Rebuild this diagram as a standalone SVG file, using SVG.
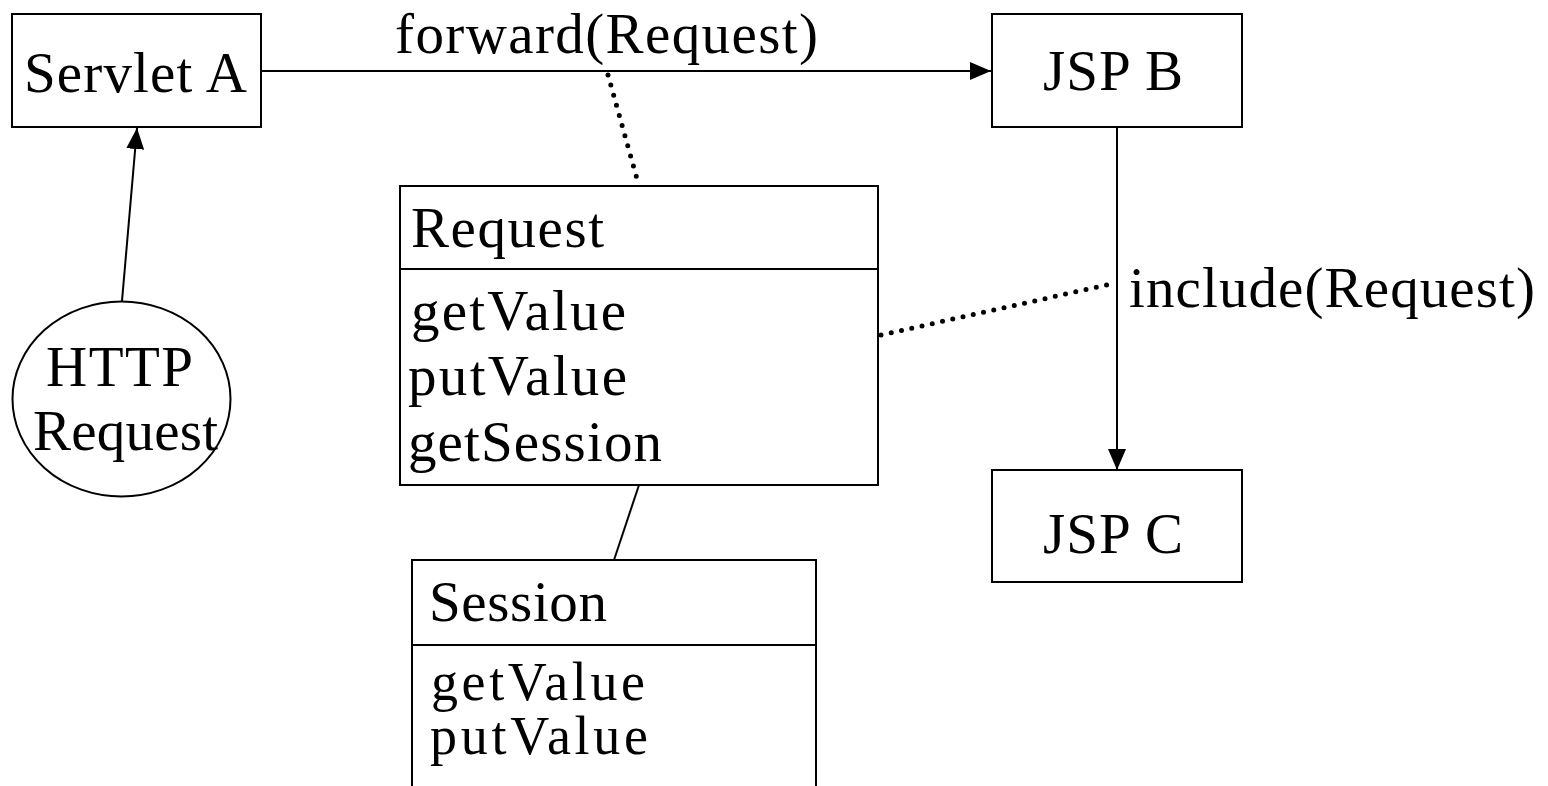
<svg xmlns="http://www.w3.org/2000/svg" width="1548" height="786" viewBox="0 0 1548 786">
  <style>
    .box { fill: #fff; stroke: #000; stroke-width: 2; }
    .edge { fill: none; stroke: #000; stroke-width: 2; }
    .dots { fill: none; stroke: #000; stroke-width: 5; stroke-linecap: round; stroke-dasharray: 0 10.5; }
    text { font-family: "Liberation Serif", "Times New Roman", serif; font-size: 57px; fill: #000; }
    .small { font-size: 54px; }
  </style>
  <defs>
    <marker id="arrow" viewBox="0 0 21 18" refX="21" refY="9" markerWidth="21" markerHeight="18" markerUnits="userSpaceOnUse" orient="auto">
      <path d="M0,0 L21,9 L0,18 Z" fill="#000"/>
    </marker>
  </defs>

  <rect width="1548" height="786" fill="#fff"/>

  <g id="connectors">
    <!-- HTTP Request -> Servlet A -->
    <line class="edge" x1="122" y1="301" x2="137" y2="128" marker-end="url(#arrow)"/>
    <!-- Servlet A -> JSP B -->
    <line class="edge" x1="261" y1="71" x2="991" y2="71" marker-end="url(#arrow)"/>
    <!-- JSP B -> JSP C -->
    <line class="edge" x1="1117" y1="127" x2="1117" y2="470" marker-end="url(#arrow)"/>
    <!-- Request <-> Session association -->
    <line class="edge" x1="639" y1="485" x2="614" y2="560"/>
    <!-- dotted links to the Request object -->
    <line class="dots" x1="608" y1="75" x2="639" y2="186"/>
    <line class="dots" x1="881" y1="335" x2="1111" y2="284"/>
    <text x="395" y="53" textLength="423" lengthAdjust="spacing">forward(Request)</text>
    <text x="1129" y="307" textLength="406" lengthAdjust="spacing">include(Request)</text>
  </g>

  <g id="servlet-a">
    <rect class="box" x="12" y="14" width="249" height="113"/>
    <text x="24" y="92" textLength="223" lengthAdjust="spacing">Servlet A</text>
  </g>

  <g id="http-request">
    <ellipse class="box" cx="121.5" cy="399" rx="109" ry="97.5" stroke-width="1.6"/>
    <text x="46" y="386" textLength="147" lengthAdjust="spacing">HTTP</text>
    <text x="33" y="450" textLength="185" lengthAdjust="spacing">Request</text>
  </g>

  <g id="jsp-b">
    <rect class="box" x="992" y="14" width="250" height="113"/>
    <text x="1043" y="90" textLength="140" lengthAdjust="spacing">JSP B</text>
  </g>

  <g id="jsp-c">
    <rect class="box" x="992" y="470" width="250" height="112"/>
    <text x="1043" y="553" textLength="140" lengthAdjust="spacing">JSP C</text>
  </g>

  <g id="request">
    <rect class="box" x="400" y="186" width="478" height="299"/>
    <line class="edge" x1="400" y1="269" x2="878" y2="269"/>
    <text x="411" y="247" textLength="193" lengthAdjust="spacing">Request</text>
    <text x="411" y="330" textLength="215" lengthAdjust="spacing">getValue</text>
    <text x="408" y="395" textLength="219" lengthAdjust="spacing">putValue</text>
    <text x="408" y="461" textLength="254" lengthAdjust="spacing">getSession</text>
  </g>

  <g id="session">
    <path class="box" d="M412,790 L412,560 L816,560 L816,790"/>
    <line class="edge" x1="412" y1="645" x2="816" y2="645"/>
    <text x="429" y="621" textLength="178" lengthAdjust="spacing">Session</text>
    <text class="small" x="431" y="700" textLength="214" lengthAdjust="spacing">getValue</text>
    <text class="small" x="430" y="754" textLength="218" lengthAdjust="spacing">putValue</text>
  </g>
</svg>
